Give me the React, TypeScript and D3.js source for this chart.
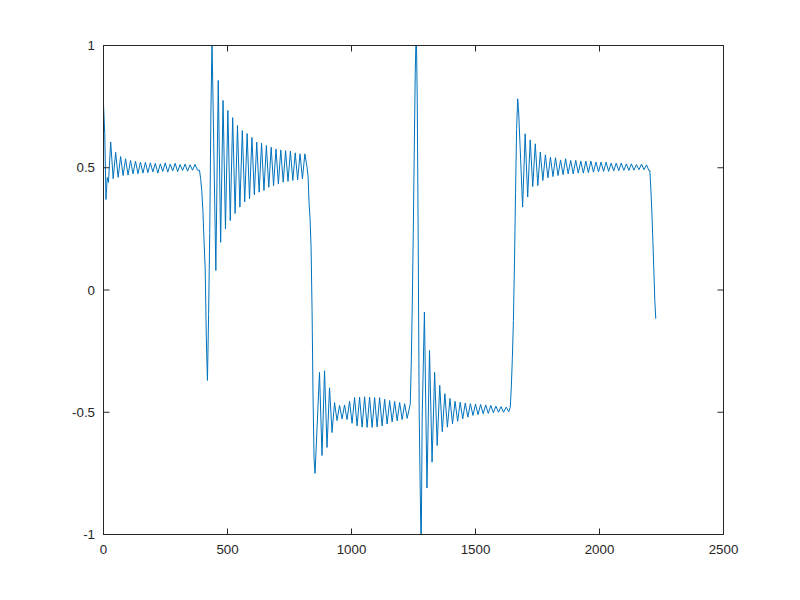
import React from 'react';
import * as d3 from 'd3';

// ---- axis data ----
const xTicks = [0, 500, 1000, 1500, 2000, 2500];
const xTickLabels = ['0', '500', '1000', '1500', '2000', '2500'];
const yTicks = [-1, -0.5, 0, 0.5, 1];
const yTickLabels = ['-1', '-0.5', '0', '0.5', '1'];

// ---- series data ----
// opening samples
const startVals = [0.76, 0.64, 0.37, 0.46, 0.44];
// first plateau ringing around 0.5 (peaks / troughs)
const aPeaks = [0.605, 0.563, 0.546, 0.537, 0.53, 0.527, 0.523, 0.522, 0.52, 0.518, 0.516, 0.52, 0.515, 0.518, 0.513, 0.515, 0.512, 0.514];
const aTroughs = [0.455, 0.461, 0.468, 0.47, 0.475, 0.476, 0.478, 0.48, 0.483, 0.478, 0.485, 0.482, 0.487, 0.484, 0.489, 0.486, 0.49, 0.49];
// dip then overshoot
const drop1 = [0.49, 0.456, 0.407, 0.325, 0.2, 0.087, -0.2, -0.37, -0.1, 0.235, 0.72, 1.02];
// second plateau ringing
const bTroughs = [0.08, 0.195, 0.25, 0.284, 0.313, 0.339, 0.36, 0.373, 0.39, 0.4, 0.407, 0.42, 0.427, 0.434, 0.441, 0.444, 0.448, 0.45, 0.455];
const bPeaks = [0.857, 0.775, 0.734, 0.705, 0.673, 0.652, 0.64, 0.624, 0.605, 0.6, 0.591, 0.584, 0.577, 0.573, 0.57, 0.568, 0.561, 0.557, 0.557];
// fall to -0.5
const drop2 = [0.5, 0.462, 0.354, 0.29, 0.175, -0.084, -0.438, -0.69, -0.75];
// low plateau ringing (beat)
const cPeaks = [-0.337, -0.33, -0.4, -0.46, -0.472, -0.47, -0.455, -0.44, -0.438, -0.437, -0.438, -0.44, -0.44, -0.447, -0.452, -0.456, -0.46, -0.465];
const cTroughs = [-0.677, -0.644, -0.583, -0.534, -0.527, -0.53, -0.545, -0.556, -0.561, -0.562, -0.562, -0.56, -0.556, -0.548, -0.54, -0.535, -0.53, -0.525];
// spike up and down
const spike = [-0.465, -0.295, -0.063, 0.23, 0.564, 0.885, 1.08, 0.79, 0.2, -0.51, -0.81, -1.08, -0.52];
// low plateau ringing after spike
const ePeaks = [-0.09, -0.247, -0.337, -0.39, -0.424, -0.444, -0.455, -0.459, -0.462, -0.465, -0.467, -0.468, -0.47, -0.472, -0.475, -0.477, -0.479];
const eTroughs = [-0.81, -0.704, -0.636, -0.58, -0.561, -0.547, -0.537, -0.527, -0.52, -0.513, -0.51, -0.506, -0.505, -0.502, -0.5, -0.5, -0.498];
// rise to 0.5
const rise = [-0.48, -0.4, -0.28, -0.125, 0.114, 0.4, 0.66, 0.782, 0.72];
// last plateau ringing
const dTroughs = [0.339, 0.38, 0.423, 0.427, 0.448, 0.459, 0.464, 0.468, 0.472, 0.475, 0.475, 0.478, 0.478, 0.48, 0.482, 0.483, 0.485, 0.485, 0.487, 0.488, 0.489, 0.489, 0.49, 0.492, 0.492];
const dPeaks = [0.639, 0.614, 0.598, 0.564, 0.553, 0.543, 0.541, 0.532, 0.537, 0.53, 0.53, 0.527, 0.527, 0.527, 0.523, 0.523, 0.523, 0.519, 0.519, 0.519, 0.516, 0.516, 0.513, 0.515, 0.512];
// final fall
const endVals = [0.489, 0.489, 0.414, 0.325, 0.209, 0.087, -0.043, -0.118];

// sample position of each run: start and spacing
const runStarts = [0, 29, 387, 453, 821, 871, 1237, 1294, 1640, 1690, 2199];
const runSteps = [5, 10, 4.6, 9.7, 4, 10.1, 4, 10.3, 4.3, 10.2, 4];

function interleave(a: number[], b: number[]): number[] {
  const out: number[] = [];
  const n = Math.max(a.length, b.length);
  for (let i = 0; i < n; i++) {
    if (i < a.length) out.push(a[i]);
    if (i < b.length) out.push(b[i]);
  }
  return out;
}

const runValues: number[][] = [
  startVals,
  interleave(aPeaks, aTroughs),
  drop1,
  interleave(bTroughs, bPeaks),
  drop2,
  interleave(cPeaks, cTroughs),
  spike,
  interleave(ePeaks, eTroughs),
  rise,
  interleave(dTroughs, dPeaks),
  endVals,
];

export default function App() {
  const W = 800;
  const H = 600;
  const L = 103.5, R = 723.5, T = 45.5, B = 534.5;
  const x = d3.scaleLinear().domain([0, 2500]).range([L, R]);
  const y = d3.scaleLinear().domain([-1, 1]).range([B, T]);

  const pts: [number, number][] = [];
  runValues.forEach((vals, k) => {
    vals.forEach((v, i) => pts.push([runStarts[k] + i * runSteps[k], v]));
  });
  const line = d3.line<[number, number]>().x(d => x(d[0])).y(d => y(d[1]));
  const axisColor = '#262626';
  const tl = 6;
  const font = '"Liberation Sans", Arial, Helvetica, sans-serif';

  return (
    <svg width={W} height={H} style={{ position: 'absolute', left: 0, top: 0, background: '#fff' }}>
      <rect x={0} y={0} width={W} height={H} fill="#ffffff" />
      <defs>
        <clipPath id="plotclip">
          <rect x={L} y={T} width={R - L} height={B - T} />
        </clipPath>
      </defs>
      <path d={line(pts) || ''} fill="none" stroke="#0072BD" strokeWidth={1} clipPath="url(#plotclip)" strokeLinejoin="round" />
      {/* box */}
      <rect x={L} y={T} width={R - L} height={B - T} fill="none" stroke={axisColor} strokeWidth={1} />
      {xTicks.map((t, i) => (
        <g key={'xt' + i}>
          <line x1={x(t)} x2={x(t)} y1={B} y2={B - tl} stroke={axisColor} strokeWidth={1} />
          <line x1={x(t)} x2={x(t)} y1={T} y2={T + tl} stroke={axisColor} strokeWidth={1} />
          <text x={x(t)} y={554} textAnchor="middle" fontFamily={font} fontSize={13.3} fill={axisColor}>{xTickLabels[i]}</text>
        </g>
      ))}
      {yTicks.map((t, i) => (
        <g key={'yt' + i}>
          <line x1={L} x2={L + tl} y1={y(t)} y2={y(t)} stroke={axisColor} strokeWidth={1} />
          <line x1={R} x2={R - tl} y1={y(t)} y2={y(t)} stroke={axisColor} strokeWidth={1} />
          <text x={95} y={y(t) + 4.7} textAnchor="end" fontFamily={font} fontSize={13.3} fill={axisColor}>{yTickLabels[i]}</text>
        </g>
      ))}
    </svg>
  );
}
